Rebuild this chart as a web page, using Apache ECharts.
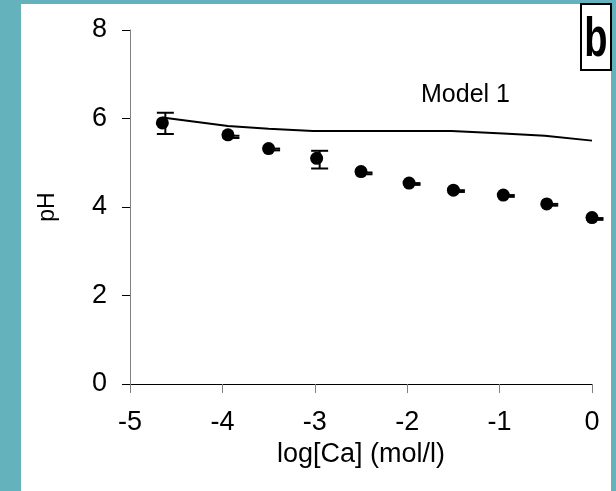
<!DOCTYPE html>
<html>
<head>
    <meta charset="utf-8"/>
    <title>pH vs log[Ca]</title>
    <script src="https://cdn.jsdelivr.net/npm/echarts@6/dist/echarts.min.js"></script>
    <style>
        html, body { margin: 0; padding: 0; background: #63b2bc; }
    </style>
</head>
<body>
<div id="main" style="width: 616px; height: 491px"></div>
<script type="text/javascript">
    // log[Ca] positions of the measurements
    var logCa = [-4.65, -3.94, -3.5, -2.98, -2.5, -1.98, -1.5, -0.96, -0.49, 0];
    // measured pH
    var phMeasured = [5.9, 5.63, 5.32, 5.1, 4.8, 4.54, 4.38, 4.27, 4.07, 3.76];
    // error bar ends
    var errLow = [5.65, 5.56, 5.28, 4.87, 4.74, 4.50, 4.34, 4.23, 4.03, 3.71];
    var errHigh = [6.13, 5.61, 5.32, 5.27, 4.78, 4.54, 4.38, 4.27, 4.07, 3.75];
    // Model 1 curve
    var modelX = [-4.65, -3.94, -3.5, -3.02, -2.5, -2, -1.52, -0.96, -0.51, 0];
    var modelPh = [6.02, 5.83, 5.77, 5.72, 5.72, 5.72, 5.72, 5.66, 5.61, 5.5];
    var xTicks = [-5, -4, -3, -2, -1, 0];
    var yTicks = [0, 2, 4, 6, 8];

    var font = 'Liberation Sans, Arial, sans-serif';
    var myChart = echarts.init(document.getElementById('main'));

    var pts = logCa.map(function (x, i) { return [x, phMeasured[i]]; });
    var errs = logCa.map(function (x, i) { return [x, errLow[i], errHigh[i]]; });
    var model = modelX.map(function (x, i) { return [x, modelPh[i]]; });

    var option = {
        backgroundColor: '#63b2bc',
        animation: false,
        grid: { left: 130, right: 24, top: 30, bottom: 107 },
        graphic: [
            { type: 'rect', z: -10, shape: { x: 21, y: 4, width: 590, height: 487 }, style: { fill: '#fff' } },
            { type: 'rect', z: 10, shape: { x: 581, y: 4, width: 30, height: 66 }, style: { fill: '#fff', stroke: '#000', lineWidth: 2 } },
            { type: 'text', z: 11, x: 596, y: 41, scaleX: 0.68,
              style: { text: 'b', font: 'bold 56px ' + font, fill: '#000', textAlign: 'center', textVerticalAlign: 'middle' } },
            { type: 'text', z: 11, x: 421, y: 95,
              style: { text: 'Model 1', font: '25px ' + font, fill: '#000', textAlign: 'left', textVerticalAlign: 'middle' } }
        ],
        xAxis: {
            type: 'value',
            min: xTicks[0], max: xTicks[xTicks.length - 1], interval: 1,
            name: 'log[Ca] (mol/l)',
            nameLocation: 'middle',
            nameGap: 54,
            nameTextStyle: { fontFamily: font, fontSize: 27, color: '#000' },
            axisLine: { lineStyle: { color: '#000', width: 1 } },
            axisTick: { length: 9, lineStyle: { color: '#808080' } },
            axisLabel: { fontFamily: font, fontSize: 27, color: '#000', margin: 25 },
            splitLine: { show: false }
        },
        yAxis: {
            type: 'value',
            min: yTicks[0], max: yTicks[yTicks.length - 1], interval: 2,
            name: 'pH',
            nameLocation: 'middle',
            nameRotate: 90,
            nameGap: 71,
            nameTextStyle: { fontFamily: font, fontSize: 23, color: '#000' },
            axisLine: { onZero: false, lineStyle: { color: '#808080', width: 1 } },
            axisTick: { length: 8, lineStyle: { color: '#000' } },
            axisLabel: { fontFamily: font, fontSize: 27, color: '#000', margin: 23 },
            splitLine: { show: false }
        },
        series: [
            {
                name: 'Model 1',
                type: 'line',
                data: model,
                symbol: 'none',
                lineStyle: { color: '#000', width: 2 },
                z: 2
            },
            {
                name: 'error',
                type: 'custom',
                data: errs,
                z: 3,
                renderItem: function (params, api) {
                    var top = api.coord([api.value(0), api.value(2)]);
                    var bot = api.coord([api.value(0), api.value(1)]);
                    var cx = top[0] + 3;
                    var hw = 8.5;
                    var st = { stroke: '#000', lineWidth: 2 };
                    return {
                        type: 'group',
                        children: [
                            { type: 'line', shape: { x1: cx, y1: top[1], x2: cx, y2: bot[1] }, style: st },
                            { type: 'line', shape: { x1: cx - hw, y1: top[1], x2: cx + hw, y2: top[1] }, style: st },
                            { type: 'line', shape: { x1: cx - hw, y1: bot[1], x2: cx + hw, y2: bot[1] }, style: st }
                        ]
                    };
                }
            },
            {
                name: 'measured',
                type: 'scatter',
                data: pts,
                symbol: 'circle',
                symbolSize: 13,
                itemStyle: { color: '#000', opacity: 1 },
                z: 4
            }
        ]
    };

    myChart.setOption(option);
</script>
</body>
</html>
